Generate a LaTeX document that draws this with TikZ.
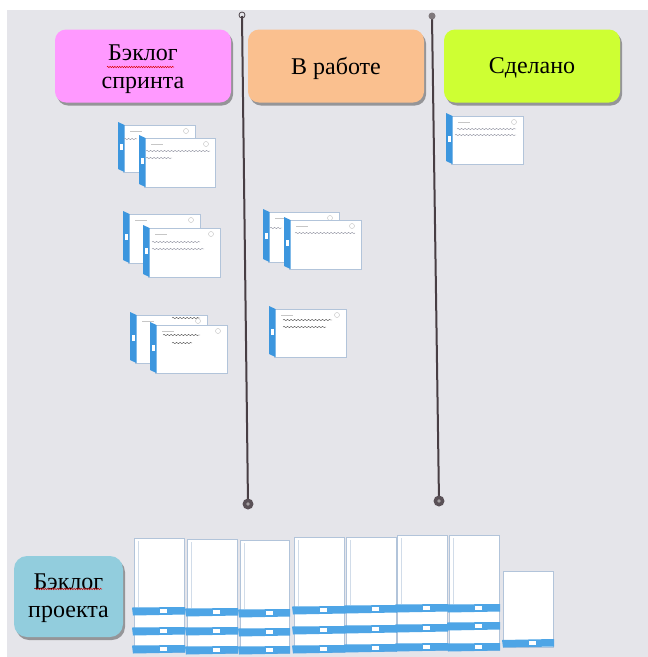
\documentclass[tikz,border=0pt]{standalone}
\usepackage{fontspec}
\setmainfont{Liberation Serif}
\usetikzlibrary{shadows,decorations.pathmorphing}
\definecolor{bg}{RGB}{229,229,234}
\definecolor{pinkc}{RGB}{255,153,255}
\definecolor{orangec}{RGB}{250,192,143}
\definecolor{greenc}{RGB}{206,255,51}
\definecolor{bluebox}{RGB}{146,205,221}
\definecolor{cardblue}{RGB}{60,150,222}
\definecolor{stripblue}{RGB}{78,165,230}
\definecolor{cardedge}{RGB}{178,196,218}
\definecolor{polec}{RGB}{72,62,68}
\definecolor{inkc}{RGB}{150,152,165}
\tikzset{
  hdr/.style={draw=none, rounded corners=11pt, minimum width=176pt, minimum height=73pt,
    inner sep=0pt,
    drop shadow={shadow xshift=2pt, shadow yshift=-3pt, fill=black, opacity=0.35}},
  hdrtext/.style={align=center, font=\fontsize{24}{28}\selectfont, inner sep=0pt},
  spell/.style={red!85!black, line width=0.5pt, decorate,
    decoration={snake, amplitude=0.7pt, segment length=2.4pt}},
  polestyle/.style={polec, line width=2pt},
  scribble/.style={inkc, line width=0.45pt, decorate,
    decoration={snake, amplitude=0.6pt, segment length=3.5pt}},
  darkscribble/.style={scribble, black!65}
}
\newcommand\smallcard[4]{%
  \filldraw[fill=white, draw=cardedge, line width=0.6pt] (#1+5,#2+3) rectangle (#3,#4);
  \fill[cardblue] (#1,#2) -- (#1+6.5,#2+3) -- (#1+6.5,#4) -- (#1,#4-3) -- cycle;
  \fill[white] (#1+1.8,{(#2+#4)/2-3}) rectangle (#1+4.8,{(#2+#4)/2+3});
  \draw[gray!50, line width=0.4pt] (#3-9,#2+9) circle (2.5);
  \draw[gray!45, line width=0.4pt] (#1+12,#2+9) -- (#1+24,#2+9);
}
\newcommand\bigcol[6]{%
  \filldraw[fill=white, draw=cardedge, line width=0.6pt] (#1,#3) rectangle (#2,#6+7);
  \draw[cardedge!60, line width=0.4pt] (#1+4,#3+3) -- (#1+4,#4);
  \foreach \s in {#4,#5,#6}{
    \fill[stripblue] (#1-2,\s+0.5) -- (#2+1,\s) -- (#2+1,\s+7.5) -- (#1-1,\s+8.5) -- cycle;
    \fill[white] ({(#1+#2)/2+1},\s+2.2) rectangle ({(#1+#2)/2+8},\s+5.8);
  }
}
\begin{document}
\begin{tikzpicture}[x=1pt, y=-1pt]
\useasboundingbox (0,0) rectangle (648,657);
\fill[white] (0,0) rectangle (648,657);
\fill[bg] (7,10) rectangle (648,657);

% header boxes
\node[hdr, fill=pinkc] (sprint) at (143,66) {};
\node[hdr, fill=orangec] (work) at (336,66) {};
\node[hdr, fill=greenc] (done) at (532,66) {};
\node[hdrtext] (sprintlbl) at (143,69) {Бэклог\\спринта};
\node[hdrtext] (worklbl) at (336,68) {В работе};
\node[hdrtext] (donelbl) at (532,68) {Сделано};
\draw[spell] (107,67) -- (174,67);

% poles
\draw[polestyle] (242,16) -- (248,504);
\draw[polestyle] (432,17) -- (439,501);
\draw[polec, line width=0.8pt] (242,15) circle (3);
\fill[polec!70] (432,16) circle (3.5);
\fill[polec!90] (248,504) circle (5.5);
\fill[polec!50] (248,504) circle (1.8);
\fill[polec!90] (439,501) circle (5.5);
\fill[polec!50] (439,501) circle (1.8);

% sprint backlog cards
\smallcard{118}{122}{195}{172}
\draw[scribble] (124,139) -- (137,139);
\smallcard{139}{135}{215}{187}
\draw[scribble] (146,151) -- (210,151);
\draw[scribble] (146,158) -- (172,158);

\smallcard{123}{211}{200}{263}
\smallcard{143}{225}{220}{277}
\draw[scribble] (152,242) -- (200,242);
\draw[scribble] (152,249) -- (204,249);

\smallcard{130}{312}{207}{363}
\draw[darkscribble] (172,318) -- (200,318);
\smallcard{150}{322}{227}{373}
\draw[darkscribble] (163,335) -- (200,335);
\draw[darkscribble] (172,343) -- (192,343);

% in progress cards
\smallcard{263}{209}{339}{262}
\draw[scribble] (270,228) -- (282,228);
\smallcard{284}{217}{361}{269}
\draw[scribble] (295,233) -- (355,233);

\smallcard{269}{306}{346}{357}
\draw[darkscribble] (283,320) -- (332,320);
\draw[darkscribble] (283,327) -- (326,327);

% done card
\smallcard{446}{113}{523}{164}
\draw[scribble] (457,129) -- (516,129);
\draw[scribble] (455,135) -- (516,135);

% project backlog
\node[hdr, fill=bluebox, minimum width=109pt, minimum height=81pt, rounded corners=13pt] (proj) at (68.5,596.5) {};
\node[hdrtext] (projlbl) at (68.5,598) {Бэклог\\проекта};
\draw[spell] (35,589) -- (102,589);

\bigcol{134}{184}{538}{607}{627}{645}
\bigcol{187}{237}{539}{608}{627}{646}
\bigcol{240}{289}{540}{609}{628}{646}
\bigcol{294}{344}{537}{606}{626}{645}
\bigcol{346}{396}{537}{605}{625}{644}
\bigcol{397}{447}{535}{604}{624}{643}
\bigcol{449}{499}{535}{604}{622}{643}
\filldraw[fill=white, draw=cardedge, line width=0.6pt] (503,571) rectangle (553,647);
\fill[stripblue] (502,640) -- (554,639) -- (554,646.5) -- (503,647.5) -- cycle;
\fill[white] (529,641.2) rectangle (536,644.8);
\end{tikzpicture}
\end{document}
